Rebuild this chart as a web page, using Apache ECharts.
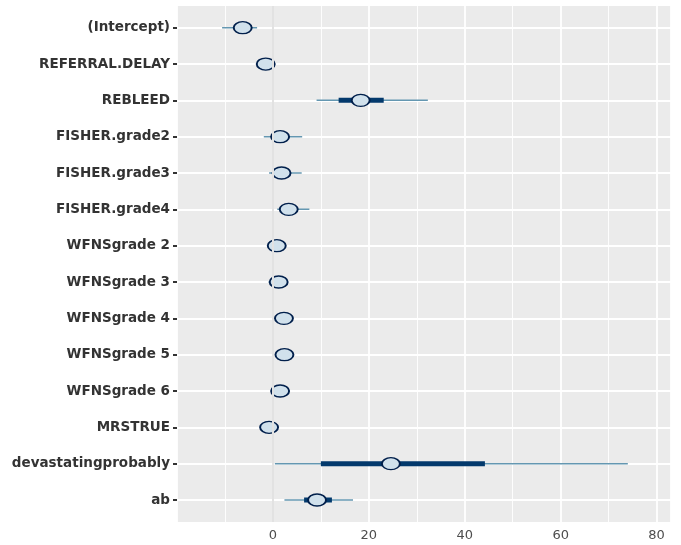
<!DOCTYPE html>
<html><head><meta charset="utf-8">
<script src="https://cdn.jsdelivr.net/npm/echarts@6/dist/echarts.min.js"></script>
<style>html,body{margin:0;padding:0;background:#fff}#c{width:681px;height:545px}</style>
</head><body><div id="c"></div>
<script>
const params = ['(Intercept)','REFERRAL.DELAY','REBLEED','FISHER.grade2','FISHER.grade3','FISHER.grade4','WFNSgrade 2','WFNSgrade 3','WFNSgrade 4','WFNSgrade 5','WFNSgrade 6','MRSTRUE','devastatingprobably','ab'];
const medians = [-6.3, -1.5, 18.3, 1.5, 1.8, 3.3, 0.8, 1.2, 2.3, 2.4, 1.5, -0.8, 24.6, 9.2];
const outerLo = [-10.6, -3.4, 9.1, -1.9, -0.8, 0.9, -0.9, -0.9, 0.6, 0.7, -0.2, -2.5, 0.4, 2.4];
const outerHi = [-3.3, 0.4, 32.3, 6.1, 6.0, 7.6, 2.6, 3.0, 4.1, 4.2, 3.2, 0.9, 74.0, 16.7];
const innerLo = [-7.8, -2.6, 13.7, 0.2, 0.6, 2.0, -0.1, 0.2, 1.4, 1.5, 0.6, -1.7, 10.0, 6.5];
const innerHi = [-4.8, -0.4, 23.1, 2.8, 3.0, 4.6, 1.8, 2.2, 3.2, 3.3, 2.4, 0.1, 44.2, 12.3];
const xMin = -20, xMax = 83, xStep = 20;

const chart = echarts.init(document.getElementById('c'));
function seg(color, width) {
  return function (p, api) {
    const s = api.coord([api.value(0), api.value(2)]);
    const e = api.coord([api.value(1), api.value(2)]);
    return {type: 'line', shape: {x1: s[0], y1: s[1], x2: e[0], y2: e[1]},
      style: {stroke: color, lineWidth: width, lineCap: 'butt'}};
  };
}
chart.setOption({
  animation: false,
  backgroundColor: '#ffffff',
  grid: [
    {left: 177, right: 10, top: 6, bottom: 23, show: true, backgroundColor: '#ebebeb', borderWidth: 0},
    {left: 177, right: 10, top: 27.7, height: 472.3, show: false}
  ],
  xAxis: [
    {gridIndex: 0, type: 'value', min: xMin, max: xMax, interval: xStep,
      axisLine: {show: false, onZero: false}, axisTick: {show: false},
      axisLabel: {margin: 7, color: '#4d4d4d', fontSize: 13, fontFamily: 'DejaVu Sans',
        formatter: v => (v < 0 ? '' : String(v))},
      splitLine: {show: true, lineStyle: {color: '#ffffff', width: 1.8}},
      minorTick: {show: false, splitNumber: 2},
      minorSplitLine: {show: true, lineStyle: {color: '#ffffff', width: 0.9}}},
    {gridIndex: 1, type: 'value', min: xMin, max: xMax, show: false, axisLine: {onZero: false}}
  ],
  yAxis: [
    {gridIndex: 0, type: 'value', min: 0, max: 1, show: false, axisLine: {onZero: false}},
    {gridIndex: 1, type: 'category', data: params, inverse: true, boundaryGap: false, position: 'left',
      axisLine: {show: false, onZero: false},
      axisTick: {show: true, length: 4, lineStyle: {color: '#333333', width: 2}},
      axisLabel: {margin: 7, color: '#333333', fontSize: 13.5, fontWeight: 'bold', fontFamily: 'DejaVu Sans'},
      splitLine: {show: true, lineStyle: {color: '#ffffff', width: 1.8}}}
  ],
  series: [
    {type: 'scatter', xAxisIndex: 0, yAxisIndex: 0, data: [], silent: true,
      markLine: {silent: true, symbol: 'none', label: {show: false},
        lineStyle: {color: '#e2e2e2', width: 2, type: 'solid'}, data: [{xAxis: 0}]}},
    {type: 'custom', xAxisIndex: 1, yAxisIndex: 1, clip: false,
      renderItem: seg('#6497b1', 1.5), encode: {x: [0, 1], y: 2},
      data: params.map((p, i) => [outerLo[i], outerHi[i], i])},
    {type: 'custom', xAxisIndex: 1, yAxisIndex: 1, clip: false,
      renderItem: seg('#03396c', 5), encode: {x: [0, 1], y: 2},
      data: params.map((p, i) => [innerLo[i], innerHi[i], i])},
    {type: 'scatter', xAxisIndex: 1, yAxisIndex: 1, clip: false, symbol: 'circle', symbolSize: [18, 12],
      itemStyle: {color: '#d1e1ec', borderColor: '#011f4b', borderWidth: 1.6, opacity: 1},
      data: medians.map((m, i) => [m, i])}
  ]
});
</script></body></html>
